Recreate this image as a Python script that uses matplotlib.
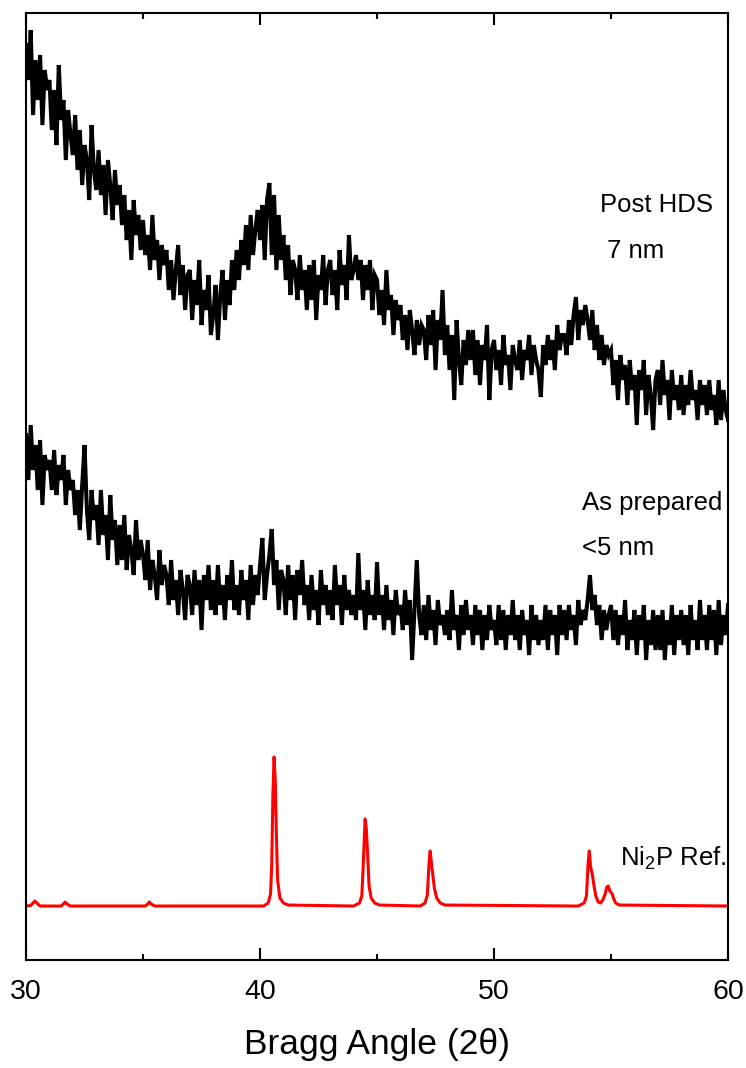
import matplotlib
matplotlib.use('Agg')
import matplotlib.pyplot as plt
import numpy as np

plt.rcParams['font.family'] = ['Liberation Sans', 'DejaVu Sans']
plt.rcParams['mathtext.fontset'] = 'custom'
plt.rcParams['mathtext.rm'] = 'Liberation Sans'
plt.rcParams['mathtext.default'] = 'regular'

# 2theta grid of the measured patterns (0.1 deg step)
two_theta = np.round(np.arange(30.0, 60.05, 0.1), 1)

# Post HDS, 7 nm (arbitrary intensity units)
post_hds = [
    915, 880, 930, 845, 900, 860, 905, 835, 890, 870,
    880, 830, 870, 815, 895, 840, 860, 800, 850, 825,
    805, 845, 790, 830, 775, 815, 800, 760, 835, 790,
    770, 810, 765, 795, 745, 800, 775, 740, 790, 755,
    775, 735, 765, 720, 750, 700, 760, 725, 745, 710,
    740, 705, 725, 690, 745, 700, 720, 680, 715, 695,
    710, 670, 700, 660, 690, 715, 665, 695, 650, 685,
    690, 640, 680, 655, 700, 635, 670, 650, 685, 625,
    645, 675, 620, 665, 690, 640, 680, 655, 700, 670,
    710, 680, 720, 695, 735, 690, 745, 705, 730, 750,
    720, 755, 700, 760, 777, 705, 765, 690, 745, 700,
    725, 680, 715, 665, 700, 690, 660, 705, 670, 690,
    650, 695, 660, 700, 640, 685, 670, 705, 655, 690,
    700, 665, 690, 650, 710, 675, 695, 660, 725, 680,
    690, 705, 680, 700, 660, 695, 670, 700, 650, 685,
    680, 645, 670, 635, 690, 650, 665, 625, 660, 640,
    655, 620, 645, 610, 650, 630, 605, 640, 615, 635,
    630, 600, 645, 615, 650, 590, 640, 620, 670, 605,
    635, 590, 625, 560, 640, 600, 575, 620, 595, 630,
    600, 630, 585, 620, 575, 615, 600, 635, 560, 610,
    620, 590, 610, 575, 625, 595, 605, 570, 615, 600,
    590, 620, 580, 610, 600, 625, 585, 615, 600, 590,
    563, 615, 595, 625, 600, 620, 590, 635, 610, 625,
    625, 605, 640, 615, 645, 663, 620, 650, 635, 655,
    640, 620, 650, 610, 635, 600, 625, 595, 615, 605,
    610, 575, 600, 560, 605, 580, 595, 555, 600, 570,
    585, 535, 590, 570, 600, 545, 585, 565, 530, 580,
    590, 555, 600, 565, 580, 540, 590, 560, 575, 550,
    585, 545, 575, 555, 590, 560, 570, 540, 580, 555,
    575, 545, 580, 550, 565, 535, 580, 540, 570, 550,
    540,
]

# As prepared, <5 nm
as_prepared = [
    525, 480, 535, 490, 515, 470, 520, 455, 505, 490,
    500, 470, 510, 465, 495, 480, 505, 455, 490, 470,
    480, 445, 470, 430, 475, 515, 450, 420, 470, 440,
    455, 415, 470, 425, 445, 400, 465, 420, 440, 395,
    435, 400, 445, 390, 425, 410, 385, 440, 400, 420,
    405, 380, 420, 370, 400, 385, 360, 410, 375, 395,
    385, 355, 400, 360, 380, 345, 390, 370, 340, 385,
    375, 345, 390, 355, 380, 330, 385, 360, 395, 350,
    380, 345, 395, 355, 375, 340, 385, 360, 400, 350,
    375, 345, 390, 360, 380, 340, 395, 355, 385, 365,
    395, 422, 360, 385, 405, 431, 375, 400, 350, 390,
    380, 345, 395, 360, 385, 340, 390, 365, 400, 355,
    375, 340, 385, 350, 370, 335, 390, 355, 375, 345,
    370, 340, 395, 355, 375, 335, 385, 350, 370, 345,
    365, 340, 407, 350, 370, 330, 380, 345, 365, 340,
    398, 345, 365, 330, 375, 340, 360, 325, 370, 345,
    355, 330, 370, 335, 360, 300, 350, 400, 345, 325,
    355, 320, 365, 330, 350, 315, 360, 335, 345, 325,
    350, 320, 370, 330, 345, 310, 355, 325, 360, 330,
    345, 315, 355, 325, 350, 310, 345, 320, 355, 330,
    340, 315, 355, 320, 350, 310, 345, 325, 360, 320,
    345, 310, 350, 325, 340, 305, 355, 320, 345, 315,
    340, 320, 355, 310, 350, 325, 345, 305, 355, 325,
    350, 320, 355, 330, 345, 315, 360, 335, 350, 340,
    360, 385, 350, 365, 335, 355, 320, 350, 330, 345,
    355, 320, 350, 315, 345, 325, 360, 310, 340, 320,
    350, 305, 345, 320, 355, 300, 340, 315, 350, 310,
    345, 310, 350, 300, 340, 315, 355, 305, 345, 320,
    350, 315, 345, 305, 355, 320, 340, 310, 360, 320,
    345, 310, 355, 320, 350, 305, 360, 315, 345, 325,
    355,
]

# Ni2P reference pattern
ref_theta = [30.0, 30.2, 30.3, 30.38, 30.46, 30.6, 31.5, 31.6, 31.67, 31.75, 31.9,
             35.1, 35.2, 35.27, 35.35, 35.5,
             40.15, 40.35, 40.45, 40.5, 40.55, 40.6, 40.65, 40.7, 40.75, 40.85, 41.0, 41.2,
             44.0, 44.25, 44.35, 44.42, 44.49, 44.54, 44.6, 44.66, 44.75, 44.9, 45.1,
             46.85, 47.05, 47.15, 47.22, 47.27, 47.33, 47.38, 47.45, 47.55, 47.7, 47.9,
             53.6, 53.85, 53.95, 54.02, 54.07, 54.13, 54.2, 54.26, 54.35, 54.45,
             54.55, 54.65, 54.75, 54.82, 54.88, 54.95, 55.05, 55.12, 55.2, 55.35,
             60.0]
ref_int = [54, 54.5, 57, 59, 57, 54, 54, 56, 58, 56, 54,
           54, 56, 58, 56, 54,
           54, 57, 66, 95, 165, 203, 180, 125, 80, 62, 57, 55,
           54, 57, 64, 100, 141, 132, 105, 74, 62, 57, 55,
           54, 57, 65, 96, 109, 96, 86, 72, 62, 57, 55,
           54, 57, 64, 96, 109, 93, 86, 76, 64, 58,
           57, 60, 66, 73, 74, 69, 66, 61, 57, 55,
           54]

assert len(post_hds) == len(two_theta) and len(as_prepared) == len(two_theta)
assert len(ref_theta) == len(ref_int)

fig = plt.figure(figsize=(7.46, 10.68), dpi=100)
ax = fig.add_axes([0.0349, 0.1011, 0.941, 0.8867])

ax.plot(two_theta, post_hds, color='black', linewidth=2.9, solid_joinstyle='miter')
ax.plot(two_theta, as_prepared, color='black', linewidth=2.9, solid_joinstyle='miter')
ax.plot(ref_theta, ref_int, color='#ff0000', linewidth=2.2)

ax.set_xlim(30, 60)
ax.set_ylim(0, 947)
ax.set_xticks([30, 40, 50, 60])
ax.set_xticks([35, 45, 55], minor=True)
ax.set_yticks([])
ax.tick_params(axis='x', which='both', direction='in', top=True, width=1.5,
               labelsize=20.5, pad=14)
ax.tick_params(axis='x', which='major', length=8.6)
ax.tick_params(axis='x', which='minor', length=4.3)
for s in ax.spines.values():
    s.set_linewidth(1.5)

ax.set_xlabel('Bragg Angle (2θ)', fontsize=25.5, labelpad=16)

# sample labels
txt = dict(fontsize=18.5, va='center', ha='left')
ax.text(54.53, 960 - 205, 'Post HDS', **txt)
ax.text(54.83, 960 - 251, '7 nm', **txt)
ax.text(53.76, 960 - 503, 'As prepared', **txt)
ax.text(53.76, 960 - 548, '<5 nm', **txt)
ax.text(55.38, 960 - 858, 'Ni$_2$P Ref.', **txt)

fig.savefig('out.png', dpi=100)
